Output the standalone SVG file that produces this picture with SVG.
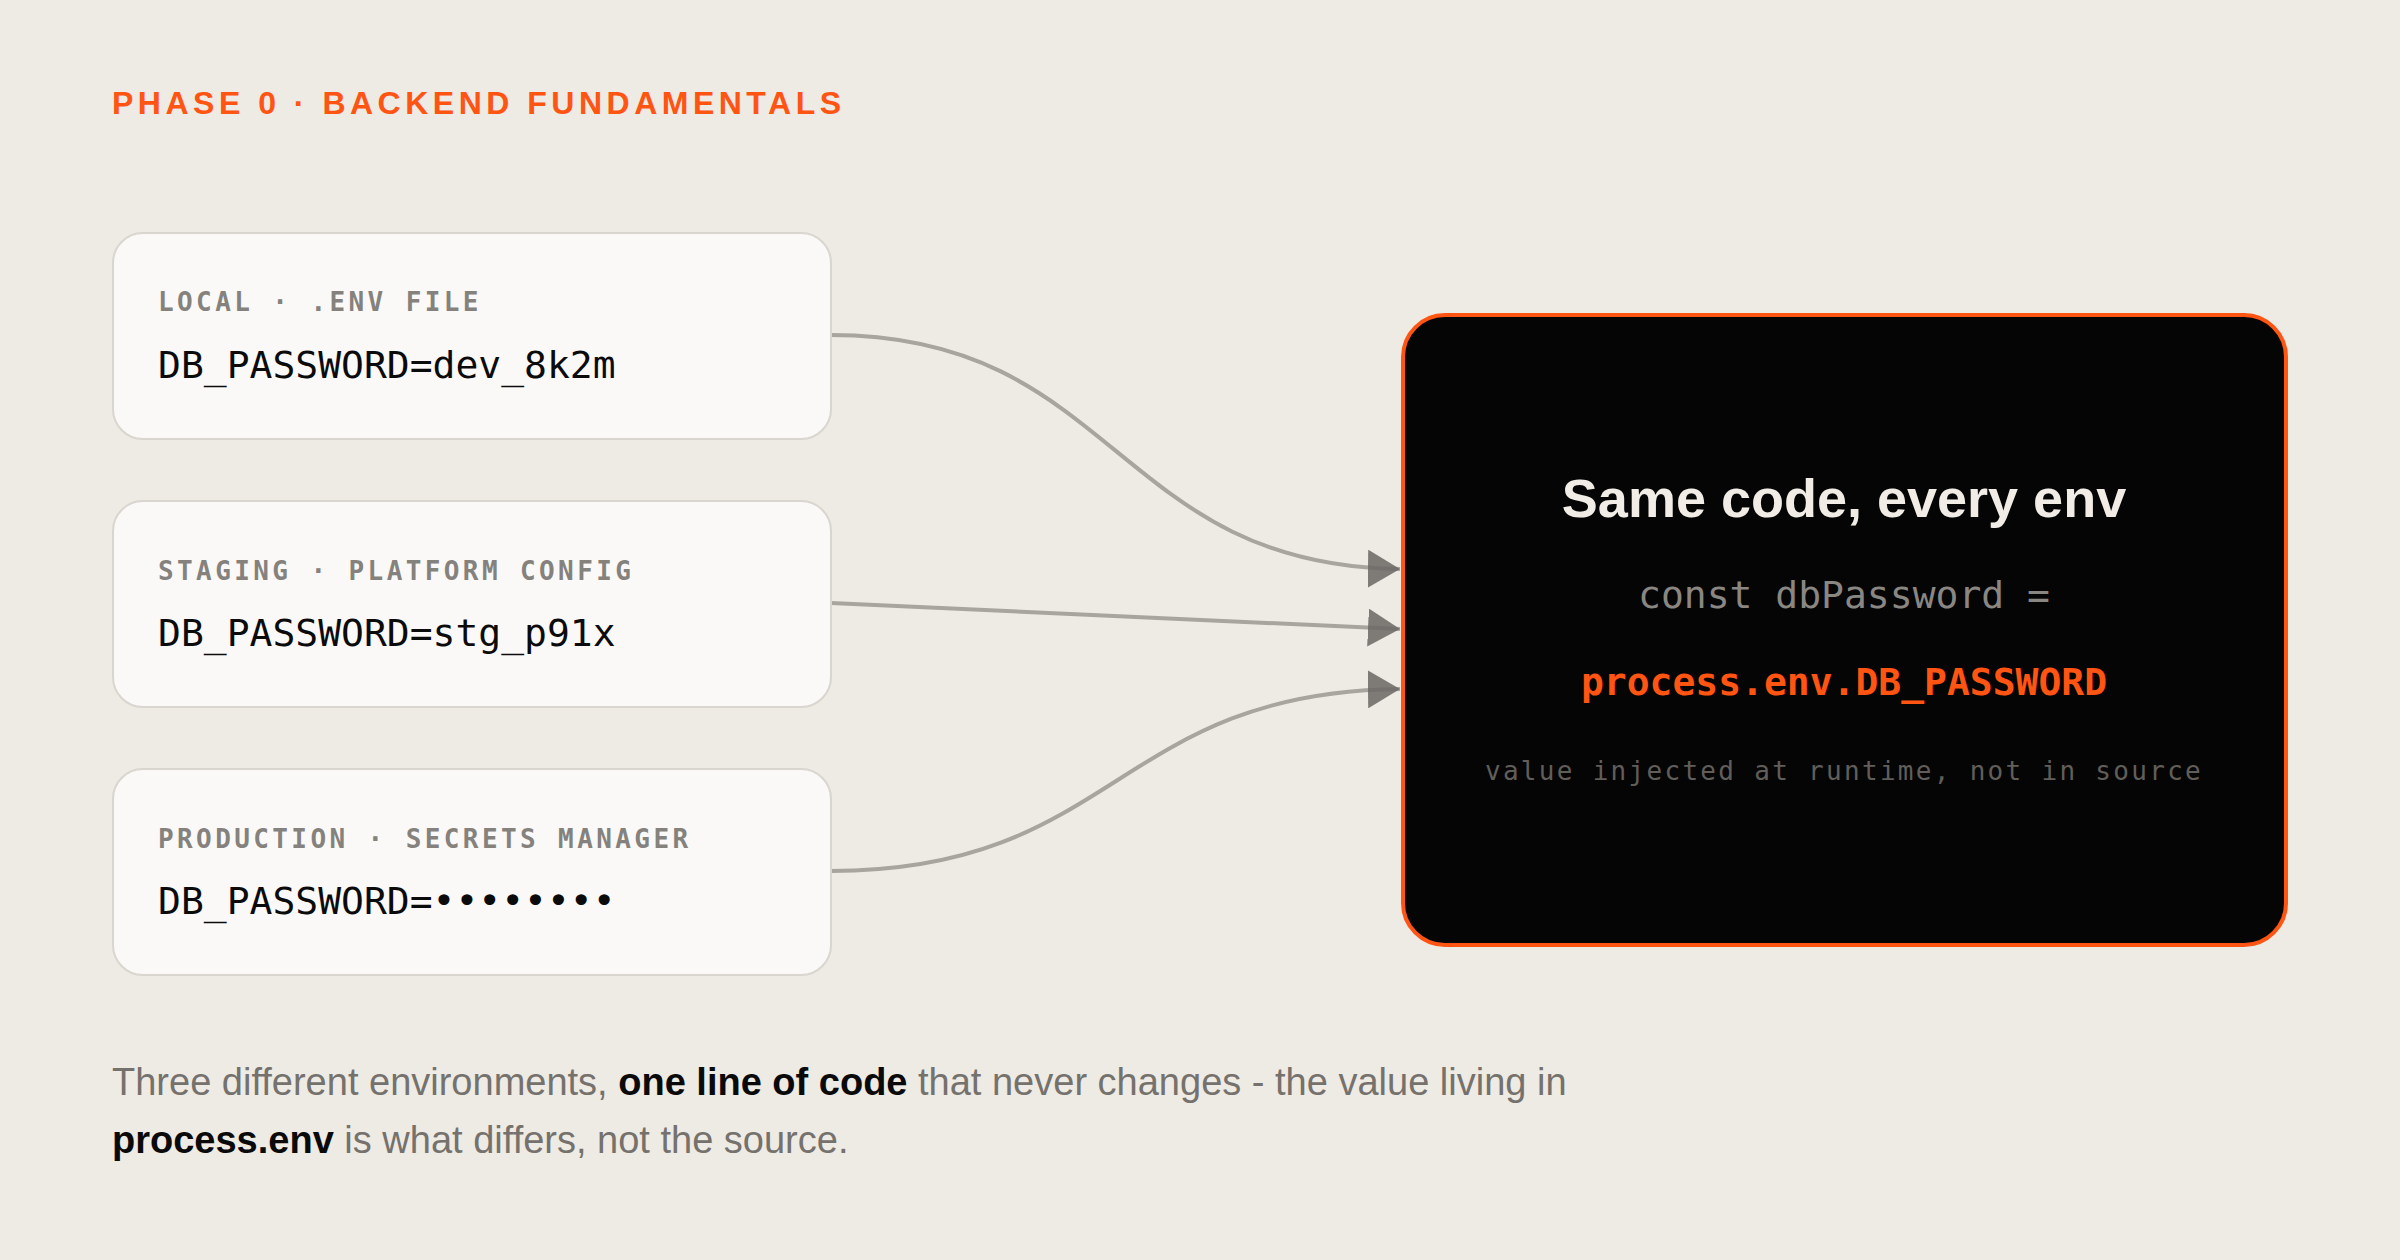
<svg xmlns="http://www.w3.org/2000/svg" width="2400" height="1260" viewBox="0 0 2400 1260">
<defs>
<style>
.bg{fill:#eeeae4}
.card{fill:#faf9f7;stroke:#d9d5cf;stroke-width:2}
.lbl{font-family:"DejaVu Sans Mono","Liberation Mono",monospace;font-weight:700;font-size:26px;letter-spacing:3.4px;fill:#85827e}
.val{font-family:"DejaVu Sans Mono","Liberation Mono",monospace;font-size:38px;fill:#0b0b0b}
.edge{fill:none;stroke:#a8a49e;stroke-width:4}
.title{font-family:"Liberation Sans",Arial,sans-serif;font-weight:700;font-size:32px;letter-spacing:4.5px;fill:#ff5412}
.cap{font-family:"Liberation Sans",Arial,sans-serif;font-size:38px;fill:#75716c}
.capb{font-weight:700;fill:#0a0a0a}
.mono{font-family:"DejaVu Sans Mono","Liberation Mono",monospace}
</style>
<marker id="arr" viewBox="0 0 32 38" refX="32" refY="19" markerWidth="32" markerHeight="38" markerUnits="userSpaceOnUse" orient="auto">
<path d="M0,0 L32,19 L0,38 Z" fill="#6a6764" fill-opacity="0.85"/>
</marker>
</defs>
<rect class="bg" x="0" y="0" width="2400" height="1260"/>
<text class="title" x="112" y="114">PHASE 0 · BACKEND FUNDAMENTALS</text>

<g id="connectors">
<path class="edge" d="M831,335 C1116,335 1116,566 1400,569" marker-end="url(#arr)"/>
<path class="edge" d="M831,603 L1400,629" marker-end="url(#arr)"/>
<path class="edge" d="M831,871 C1116,871 1116,692 1400,689" marker-end="url(#arr)"/>
</g>

<g id="local">
<rect class="card" x="113" y="233" width="718" height="206" rx="30"/>
<text class="lbl" x="158" y="311">LOCAL · .ENV FILE</text>
<text class="val" x="158" y="378">DB_PASSWORD=dev_8k2m</text>
</g>
<g id="staging">
<rect class="card" x="113" y="501" width="718" height="206" rx="30"/>
<text class="lbl" x="158" y="580">STAGING · PLATFORM CONFIG</text>
<text class="val" x="158" y="646">DB_PASSWORD=stg_p91x</text>
</g>
<g id="production">
<rect class="card" x="113" y="769" width="718" height="206" rx="30"/>
<text class="lbl" x="158" y="848">PRODUCTION · SECRETS MANAGER</text>
<text class="val" x="158" y="914">DB_PASSWORD=••••••••</text>
</g>

<g id="code">
<rect x="1403" y="315" width="883" height="630" rx="42" fill="#050505" stroke="#ff5412" stroke-width="4"/>
<text x="1844" y="517" text-anchor="middle" font-family="'Liberation Sans',Arial,sans-serif" font-weight="700" font-size="54" fill="#f1ece5">Same code, every env</text>
<text class="mono" x="1844" y="608" text-anchor="middle" font-size="38" fill="#8a8783">const dbPassword =</text>
<text class="mono" x="1844" y="695" text-anchor="middle" font-weight="700" font-size="38" fill="#ff5412">process.env.DB_PASSWORD</text>
<text class="mono" x="1844" y="780" text-anchor="middle" font-size="26" letter-spacing="2.3" fill="#615e5a">value injected at runtime, not in source</text>
</g>

<text class="cap" x="112" y="1095">Three different environments, <tspan class="capb">one line of code</tspan> that never changes - the value living in</text>
<text class="cap" x="112" y="1153"><tspan class="capb">process.env</tspan> is what differs, not the source.</text>
</svg>
